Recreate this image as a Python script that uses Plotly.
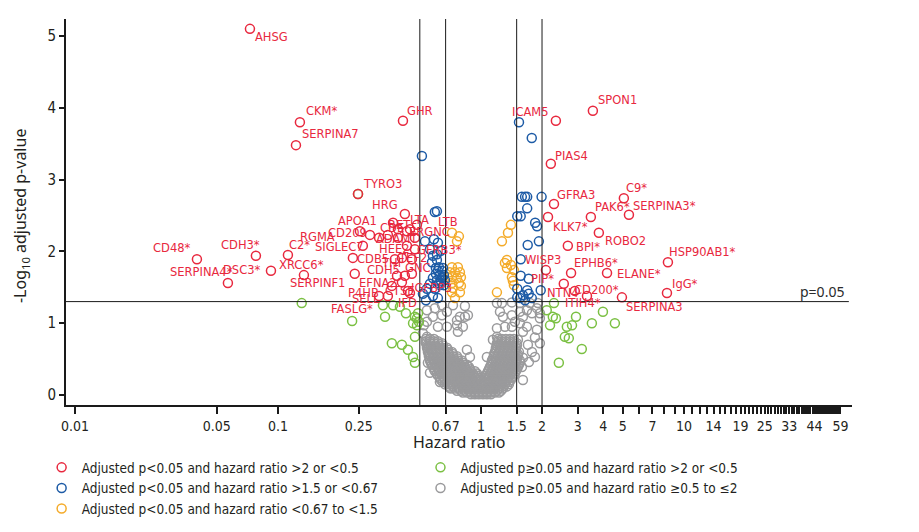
import numpy as np
import plotly.graph_objects as go

# ---------------- data (hazard ratio, -log10 adjusted p) ----------------
red_hr = [0.0728, 0.1283, 0.1227, 0.413, 0.248, 0.422, 0.0399, 0.0567, 0.0779, 0.0924,
          0.112, 0.1343, 0.239, 0.2535, 0.284, 0.315, 0.348, 0.369, 0.390, 0.447,
          0.484, 0.390, 0.432, 0.473, 0.262, 0.432, 0.473, 0.234, 0.408, 0.457,
          0.377, 0.386, 0.422, 0.457, 0.364, 0.408, 0.437, 0.447, 0.315, 0.348,
          2.34, 3.56, 2.21, 5.06, 2.29, 3.48, 5.36, 2.14, 3.81, 2.68,
          8.34, 2.78, 4.18, 2.09, 8.25, 2.56, 3.33, 2.90, 4.95]
red_y = [5.10, 3.80, 3.48, 3.82, 2.80, 2.52, 1.89, 1.56, 1.94, 1.73,
         1.95, 1.67, 1.69, 2.28, 2.23, 2.19, 2.23, 2.40, 2.31, 2.31,
         2.37, 2.19, 2.28, 2.19, 2.08, 2.08, 2.03, 1.91, 1.91, 1.89,
         1.89, 1.66, 1.66, 1.69, 1.52, 1.57, 1.45, 1.42, 1.38, 1.38,
         3.82, 3.96, 3.22, 2.74, 2.66, 2.48, 2.51, 2.48, 2.26, 2.08,
         1.85, 1.70, 1.70, 1.74, 1.42, 1.55, 1.38, 1.45, 1.36]

blue_hr = [1.54, 1.78, 1.59, 1.65, 1.69, 1.99, 1.69, 1.51, 1.57, 1.85,
           1.89, 1.93, 1.70, 1.57, 1.57, 1.72, 1.51, 1.69, 1.97, 1.61,
           1.72, 1.56, 1.65, 1.78, 1.51,
           0.512, 0.593, 0.607, 0.530, 0.587, 0.614, 0.561, 0.607, 0.635, 0.580,
           0.607, 0.614, 0.643, 0.600, 0.628, 0.657, 0.580, 0.607, 0.635, 0.561,
           0.628, 0.542, 0.593, 0.518, 0.580, 0.614, 0.650, 0.621, 0.665, 0.600,
           0.643, 0.621, 0.657, 0.536, 0.574]
blue_y = [3.80, 3.58, 2.76, 2.76, 2.76, 2.76, 2.60, 2.49, 2.49, 2.40,
          2.35, 2.14, 2.09, 1.89, 1.66, 1.62, 1.48, 1.46, 1.46, 1.39,
          1.41, 1.35, 1.32, 1.35, 1.36,
          3.33, 2.55, 2.56, 2.14, 2.17, 2.12, 2.03, 1.96, 2.01, 1.94,
          1.88, 1.73, 1.73, 1.69, 1.67, 1.67, 1.63, 1.60, 1.59, 1.55,
          1.53, 1.48, 1.48, 1.41, 1.38, 1.35, 1.77, 1.78, 1.60, 1.77,
          1.63, 1.56, 1.53, 1.32, 1.85]

orange_hr = [0.720, 0.779, 0.762, 0.720, 0.770, 0.703, 0.745, 0.788, 0.720, 0.762,
             0.797, 0.720, 0.728, 0.788, 0.720, 0.688, 0.745, 0.779, 0.797,
             1.405, 1.359, 1.269, 1.343, 1.313, 1.405, 1.343, 1.454, 1.421, 1.437,
             1.454, 1.199]
orange_y = [2.26, 2.21, 2.14, 1.78, 1.78, 1.71, 1.71, 1.71, 1.64, 1.63,
            1.64, 1.56, 1.49, 1.43, 1.43, 1.64, 1.35, 1.56, 1.52,
            2.37, 2.26, 2.14, 1.88, 1.84, 1.81, 1.77, 1.74, 1.64, 1.59,
            1.53, 1.43]

green_hr = [0.131, 0.232, 0.248, 0.337, 0.329, 0.369, 0.399, 0.427, 0.473, 0.490,
            0.463, 0.484, 0.495, 0.364, 0.408, 0.437, 0.463, 0.473, 0.473, 0.484,
            2.29, 2.11, 2.26, 2.34, 2.94, 3.99, 3.52, 4.57, 2.65, 2.81,
            2.19, 2.59, 2.71, 2.42, 3.14]
green_y = [1.28, 1.03, 2.80, 1.09, 1.25, 1.25, 1.23, 1.14, 1.09, 1.14,
           1.00, 0.97, 1.02, 0.72, 0.70, 0.63, 0.53, 0.45, 0.81, 1.07,
           1.28, 1.18, 1.09, 1.07, 1.09, 1.16, 1.00, 1.00, 0.95, 0.97,
           0.97, 0.81, 0.79, 0.45, 0.64]

# gray: dense core, read row by row (y level, hazard ratios)
gray_rows = [
    (0.01, [0.893, 0.934, 0.977, 1.023, 1.070, 1.120]),
    (0.035, [0.815, 0.853, 0.893, 0.934, 0.977, 1.023, 1.070, 1.120, 1.172, 1.227]),
    (0.06, [0.762, 0.797, 0.834, 0.873, 0.913, 0.956, 1.000, 1.046, 1.095, 1.146, 1.199, 1.255]),
    (0.09, [0.711, 0.745, 0.779, 0.815, 0.853, 0.893, 0.934, 0.977, 1.023, 1.070, 1.120, 1.172,
            1.227, 1.284]),
    (0.12, [0.696, 0.728, 0.770, 0.806, 0.844, 0.883, 0.924, 0.967, 1.023, 1.070, 1.120, 1.172,
            1.227, 1.284, 1.343]),
    (0.15, [0.665, 0.696, 0.728, 0.762, 0.797, 0.834, 0.873, 0.913, 0.956, 1.000, 1.046, 1.095,
            1.146, 1.199, 1.255, 1.313, 1.374]),
    (0.18, [0.650, 0.680, 0.711, 0.745, 0.779, 0.815, 0.853, 0.893, 0.934, 0.977, 1.046, 1.095,
            1.146, 1.199, 1.255, 1.313, 1.374]),
    (0.21, [0.635, 0.665, 0.696, 0.728, 0.762, 0.797, 0.834, 0.873, 0.913, 0.956, 1.000, 1.070,
            1.120, 1.172, 1.227, 1.284, 1.343, 1.405]),
    (0.24, [0.628, 0.657, 0.688, 0.720, 0.753, 0.788, 0.825, 0.863, 0.903, 0.945, 0.989, 1.035,
            1.083, 1.133, 1.185, 1.241, 1.298, 1.359, 1.421]),
    (0.27, [0.614, 0.643, 0.673, 0.703, 0.736, 0.770, 0.806, 0.844, 0.883, 0.924, 0.967,
            1.058, 1.107, 1.159, 1.213, 1.269, 1.328, 1.390, 1.454]),
    (0.30, [0.607, 0.635, 0.665, 0.696, 0.728, 0.762, 0.797, 0.834, 0.873, 0.913, 0.956,
            1.070, 1.120, 1.172, 1.227, 1.284, 1.343, 1.405, 1.470]),
    (0.33, [0.593, 0.621, 0.650, 0.680, 0.711, 0.745, 0.779, 0.815, 0.853, 0.893, 0.934,
            1.083, 1.133, 1.185, 1.241, 1.298, 1.359, 1.421, 1.487]),
    (0.36, [0.587, 0.614, 0.643, 0.673, 0.703, 0.736, 0.770, 0.806, 0.844, 0.883,
            1.095, 1.146, 1.199, 1.255, 1.313, 1.374, 1.437, 1.504]),
    (0.39, [0.580, 0.607, 0.635, 0.665, 0.696, 0.728, 0.762, 0.797, 0.834, 0.873,
            1.107, 1.159, 1.213, 1.269, 1.328, 1.390, 1.454, 1.521]),
    (0.42, [0.574, 0.600, 0.628, 0.657, 0.688, 0.720, 0.753, 0.788, 0.825, 0.853,
            1.120, 1.172, 1.227, 1.284, 1.343, 1.405, 1.470, 1.539]),
    (0.45, [0.567, 0.593, 0.621, 0.650, 0.680, 0.711, 0.745, 0.779, 0.815,
            1.133, 1.185, 1.241, 1.298, 1.359, 1.421, 1.487, 1.556]),
    (0.48, [0.561, 0.587, 0.614, 0.643, 0.673, 0.703, 0.736, 0.770, 0.806,
            1.133, 1.185, 1.241, 1.298, 1.359, 1.421, 1.487, 1.556]),
    (0.51, [0.561, 0.587, 0.614, 0.643, 0.673, 0.703, 0.736, 0.770,
            1.146, 1.199, 1.255, 1.313, 1.374, 1.437, 1.504]),
    (0.54, [0.554, 0.580, 0.607, 0.635, 0.665, 0.696, 0.728, 0.762,
            1.159, 1.213, 1.269, 1.328, 1.390, 1.454, 1.521]),
    (0.57, [0.554, 0.580, 0.607, 0.635, 0.665, 0.696, 0.728,
            1.159, 1.213, 1.269, 1.328, 1.390, 1.454, 1.521]),
    (0.60, [0.548, 0.574, 0.600, 0.628, 0.657, 0.688, 0.720,
            1.172, 1.227, 1.284, 1.343, 1.405, 1.470, 1.539]),
    (0.63, [0.548, 0.574, 0.600, 0.628, 0.657, 0.688,
            1.185, 1.241, 1.298, 1.359, 1.421, 1.487]),
    (0.66, [0.542, 0.567, 0.593, 0.621, 0.650, 0.680,
            1.185, 1.241, 1.298, 1.359, 1.421, 1.487]),
    (0.69, [0.542, 0.567, 0.593, 0.621, 0.650,
            1.199, 1.255, 1.313, 1.374, 1.437, 1.504]),
    (0.72, [0.536, 0.561, 0.587, 0.614, 0.643,
            1.199, 1.255, 1.313, 1.374, 1.437, 1.504]),
    (0.75, [0.536, 0.561, 0.587, 0.614,
            1.213, 1.269, 1.328, 1.390, 1.454]),
    (0.78, [0.536, 0.561, 0.587,
            1.213, 1.269, 1.328, 1.390, 1.454]),
]
# gray: scattered points outside the core
gray_sparse_hr = [1.199, 1.269, 1.421, 1.556, 1.744, 1.909, 0.643, 0.593, 0.542, 0.680,
                  0.788, 0.834, 0.762, 0.863, 0.643, 0.580, 0.542, 0.614, 0.680, 0.762,
                  0.770, 0.815, 1.241, 1.284, 1.421, 1.556, 1.685, 1.784, 1.952, 1.952,
                  1.887, 1.610, 1.556, 1.610, 1.421, 1.313, 1.199, 1.685, 1.887, 1.952,
                  1.784, 1.845, 1.610, 1.592, 1.610, 1.070, 1.146, 1.199, 0.542, 0.548,
                  0.561, 0.548, 0.561, 0.628, 0.703, 0.853, 0.883, 0.524, 0.518, 0.728,
                  0.834, 1.470, 1.521, 1.704, 1.845, 1.724]
gray_sparse_y = [1.28, 1.28, 1.29, 1.28, 1.28, 1.28, 1.25, 1.21, 1.18, 1.16,
                 1.09, 1.09, 1.04, 1.11, 1.11, 1.09, 1.02, 0.95, 0.95, 0.97,
                 0.88, 0.95, 1.16, 1.09, 1.11, 1.16, 1.18, 1.14, 1.14, 1.07,
                 1.21, 1.09, 1.00, 0.88, 0.95, 0.95, 0.93, 0.95, 0.91, 0.72,
                 0.60, 0.53, 0.52, 0.39, 0.21, 0.53, 0.77, 0.81, 0.81, 0.67,
                 0.56, 0.45, 0.31, 0.18, 0.10, 0.63, 0.53, 0.97, 0.86, 1.25,
                 1.24, 1.02, 0.77, 0.70, 0.80, 0.46]

gray_hr = [h for _, row in gray_rows for h in row] + gray_sparse_hr
gray_y = [yv for yv, row in gray_rows for _ in row] + gray_sparse_y

# labels: text, group, index into that group's arrays, offsets (px right, px up)
labels = [
    ("AHSG", "red", 0, 22, -8), ("CKM*", "red", 1, 22, 11), ("SERPINA7", "red", 2, 35, 11),
    ("GHR", "red", 3, 17, 10), ("TYRO3", "red", 4, 24, 10), ("HRG", "red", 5, -20, 9),
    ("CD48*", "red", 6, -25, 11), ("SERPINA4*", "red", 7, -26, 11), ("CDH3*", "red", 8, -15, 11),
    ("DSC3*", "red", 9, -29, 1), ("C2*", "red", 10, 12, 10), ("XRCC6*", "red", 11, -2, 10),
    ("SERPINF1", "red", 12, -37, -9), ("APOA1", "red", 13, -2, 10), ("RGMA", "red", 15, -62, 1),
    ("CD209", "red", 14, -22, 2), ("SIGLEC7", "red", 24, -23, -1), ("CDE", "red", 16, 4, 7),
    ("RET", "red", 18, 2, 4), ("LTA", "red", 20, 3, 5), ("ADAMT", "red", 21, -1, -1),
    ("ERGNC", "red", 23, 15, 6), ("LTB", "orange", 0, -4, 11), ("HEE2", "red", 25, -12, -3),
    ("GFRB3*", "red", 26, 25, -1), ("CDB5", "red", 27, 20, -1), ("TEF2", "red", 29, 1, 1),
    ("THF", "red", 30, -2, -4), ("CDH5", "red", 31, -14, 6), ("GNC", "red", 33, 6, 6),
    ("EFNA2", "red", 34, -14, 3), ("IGFBP3", "red", 35, 30, -6), ("P4HB", "red", 38, -16, 3),
    ("CTSE", "red", 36, -8, 0), ("SELL", "red", 39, -22, -3), ("IFD", "red", 37, -2, -10),
    ("FASLG*", "green", 1, 0, 12),
    ("ICAM5", "red", 40, -25, 9), ("SPON1", "red", 41, 25, 11), ("PIAS4", "red", 42, 21, 8),
    ("C9*", "red", 43, 13, 10), ("GFRA3", "red", 44, 22, 9), ("PAK6*", "red", 45, 22, 10),
    ("SERPINA3*", "red", 46, 36, 9), ("KLK7*", "red", 47, 22, -10), ("ROBO2", "red", 48, 27, -8),
    ("BPI*", "red", 49, 20, -1), ("HSP90AB1*", "red", 50, 35, 10), ("WISP3", "blue", 13, 22, -1),
    ("EPHB6*", "red", 51, 25, 10), ("ELANE*", "red", 52, 32, -1), ("PIP*", "red", 53, -3, -9),
    ("IgG*", "red", 54, 18, 9), ("CD200*", "red", 55, 33, -6), ("ITIH4*", "red", 56, -4, -7),
    ("NTN4", "red", 57, -12, -2), ("SERPINA3", "red", 58, 33, -10),
]

x_tick_labels = ["0.01", "0.05", "0.1", "0.25", "0.67", "1", "1.5", "2", "3", "4", "5", "7",
                 "10", "14", "19", "25", "33", "44", "59"]
x_minor_ticks = [6, 8, 9, 11, 12, 13, 15, 16, 17, 18, 20, 21, 22, 23, 24, 26, 27, 28, 29, 30,
                 31, 32, 34, 35, 36, 37, 38, 39, 40, 41, 42, 43, 45, 46, 47, 48, 49, 50, 51,
                 52, 53, 54, 55, 56, 57, 58]
hr_cutoffs = [0.5, 0.67, 1.5, 2]
p_cut = 0.05

# ---------------- styling ----------------
RED, BLUE, ORANGE, GREEN, GRAY = "#e8283e", "#1d5ba6", "#f4ab2a", "#7bc043", "#9a9a9c"
NARROW = "Liberation Sans Narrow, Arial Narrow, DejaVu Sans Condensed, sans-serif"
LABEL_FONT = "DejaVu Sans, Verdana, sans-serif"

groups = {
    "red": (red_hr, red_y), "blue": (blue_hr, blue_y), "orange": (orange_hr, orange_y),
    "green": (green_hr, green_y), "gray": (gray_hr, gray_y),
}

fig = go.Figure()

def add_pts(hr, yv, color, name, legend, rank):
    fig.add_trace(go.Scatter(
        x=hr, y=yv, mode="markers", name=name, legend=legend, legendrank=rank,
        marker=dict(symbol="circle-open", size=9, color=color, line=dict(width=1.5, color=color)),
        hoverinfo="skip"))

add_pts(gray_hr, gray_y, GRAY, "Adjusted p\u22650.05 and hazard ratio \u22650.5 to \u22642", "legend2", 5)
add_pts(green_hr, green_y, GREEN, "Adjusted p\u22650.05 and hazard ratio >2 or <0.5", "legend2", 4)
add_pts(orange_hr, orange_y, ORANGE, "Adjusted p<0.05 and hazard ratio <0.67 to <1.5", "legend", 3)
add_pts(blue_hr, blue_y, BLUE, "Adjusted p<0.05 and hazard ratio >1.5 or <0.67", "legend", 2)
add_pts(red_hr, red_y, RED, "Adjusted p<0.05 and hazard ratio >2 or <0.5", "legend", 1)

YMIN, YMAX = -0.139, 5.237
for c in hr_cutoffs:
    fig.add_trace(go.Scatter(x=[c, c], y=[YMIN, YMAX], mode="lines", showlegend=False,
                             line=dict(color="#1a1a1a", width=1), hoverinfo="skip"))

p_line = -np.log10(p_cut)
fig.add_shape(type="line", xref="paper", yref="y", x0=0, x1=0.996, y0=p_line, y1=p_line,
              line=dict(color="#1a1a1a", width=1))

ann = []
for text, g, i, dx, dy in labels:
    hx, hy = groups[g]
    ann.append(dict(x=np.log10(hx[i]), y=hy[i], xref="x", yref="y", text=text, showarrow=False,
                    xanchor="center", yanchor="middle", xshift=dx, yshift=dy,
                    font=dict(family=LABEL_FONT, size=11.5, color=RED)))
ann.append(dict(x=0.992, y=p_line, xref="paper", yref="y", text="p=0.05", showarrow=False,
                xanchor="right", yanchor="middle", yshift=10,
                font=dict(family="Noto Sans, sans-serif", size=14, color="#2b2b2b")))
ann.append(dict(x=0.5, y=-0.097, xref="paper", yref="paper", text="Hazard ratio", showarrow=False,
                xanchor="center", yanchor="middle",
                font=dict(family="Noto Sans, sans-serif", size=16, color="#231f20")))
ann.append(dict(x=-0.057, y=0.49, xref="paper", yref="paper",
                text="-Log<sub>10</sub> adjusted p-value", showarrow=False, textangle=-90,
                xanchor="center", yanchor="middle",
                font=dict(family="Noto Sans, sans-serif", size=16, color="#231f20")))

tickvals = [float(t) for t in x_tick_labels] + x_minor_ticks
ticktext = x_tick_labels + [""] * len(x_minor_ticks)

# the page adds an 8px body margin, so the figure is offset by that amount
fig.update_layout(
    width=903, height=516, margin=dict(l=58, r=59, t=11, b=119, autoexpand=False),
    plot_bgcolor="white", paper_bgcolor="white", annotations=ann,
    xaxis=dict(type="log", range=[-2.044, 1.828], tickvals=tickvals, ticktext=ticktext,
               ticks="outside", ticklen=7, tickwidth=1.5, tickcolor="#1a1a1a",
               showline=True, linewidth=2, linecolor="#1a1a1a", showgrid=False, zeroline=False,
               tickfont=dict(family=NARROW, size=14, color="#231f20")),
    yaxis=dict(range=[YMIN, YMAX], tickvals=[0, 1, 2, 3, 4, 5], ticks="outside", ticklen=5,
               tickwidth=1.5, tickcolor="#1a1a1a", showline=True, linewidth=2,
               linecolor="#1a1a1a", showgrid=False, zeroline=False,
               tickfont=dict(family=NARROW, size=15, color="#231f20")),
    legend=dict(x=-0.031, y=-0.122, xanchor="left", yanchor="top", orientation="v",
                font=dict(family=NARROW, size=13.5, color="#231f20"), tracegroupgap=0,
                bgcolor="rgba(0,0,0,0)"),
    legend2=dict(x=0.451, y=-0.122, xanchor="left", yanchor="top", orientation="v",
                 font=dict(family=NARROW, size=13.5, color="#231f20"), tracegroupgap=0,
                 bgcolor="rgba(0,0,0,0)"),
    showlegend=True,
)

fig.write_html("out.html")
